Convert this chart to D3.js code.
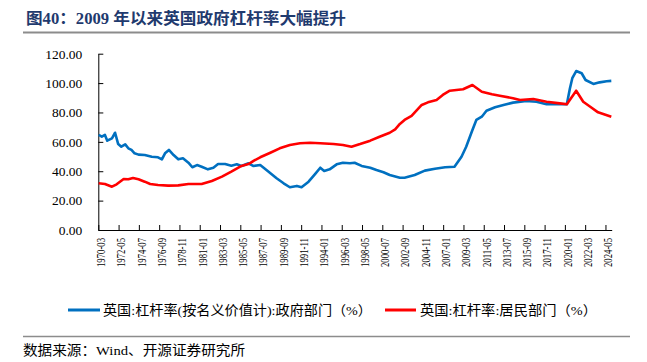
<!DOCTYPE html>
<html>
<head>
<meta charset="utf-8">
<script src="https://cdn.jsdelivr.net/npm/d3@7"></script>
<style>
  body { margin: 0; background: #fff; }
  svg { display: block; }
</style>
</head>
<body>
<div id="chart"></div>
<script>
var width  = 647;
var height = 362;

// x axis labels (every 26 months)
var tickLabels = ["1970-03","1972-05","1974-07","1976-09","1978-11","1981-01","1983-03",
  "1985-05","1987-07","1989-09","1991-11","1994-01","1996-03","1998-05","2000-07",
  "2002-09","2004-11","2007-01","2009-03","2011-05","2013-07","2015-09","2017-11",
  "2020-01","2022-03","2024-05"];
var yTicks = [0, 20, 40, 60, 80, 100, 120];
var firstMonth = "1970-03";
var lastMonth  = "2024-12";

// 政府部门
var govDates = ["1970-03","1970-07","1970-11","1971-02","1971-08","1971-12","1972-04","1972-08",
  "1973-01","1973-05","1973-09","1974-01","1974-06","1975-02","1975-11","1976-07","1976-12",
  "1977-04","1977-09","1978-03","1978-09","1979-03","1979-10","1980-03","1980-09","1981-03",
  "1981-11","1982-06","1982-12","1983-09","1984-05","1984-12","1985-06","1986-03","1986-09",
  "1987-06","1988-02","1989-03","1989-12","1990-08","1991-05","1991-11","1992-08","1993-04",
  "1993-11","1994-04","1994-11","1995-08","1996-04","1997-01","1997-07","1998-04","1999-03",
  "1999-11","2000-08","2001-04","2002-05","2002-11","2003-12","2005-01","2006-02","2007-03",
  "2008-03","2008-12","2009-06","2010-02","2010-07","2011-02","2011-08","2012-07","2013-07",
  "2014-06","2015-11","2016-12","2018-01","2019-02","2020-03","2020-07","2020-10","2021-03",
  "2021-10","2022-03","2023-01","2023-09","2024-06","2024-12"];
var govValues = [64.7,63.5,64.7,60.8,62.4,66.2,58.5,56.7,
  58.3,55.6,54.5,52.2,51.3,51.0,49.9,49.5,48.1,
  52.2,54.5,51.0,48.1,48.8,45.8,42.7,44.2,43.1,
  41.3,42.4,44.9,44.9,43.8,44.7,43.6,45.4,43.6,
  44.2,40.8,35.2,31.8,29.1,30.0,29.1,32.9,37.9,
  42.4,40.2,41.3,44.7,45.8,45.4,45.8,43.6,42.4,
  40.8,39.3,37.4,35.6,35.6,37.4,40.4,41.7,42.7,
  43.1,49.9,56.7,68.1,74.9,77.1,81.2,83.5,85.3,
  86.7,87.8,87.3,85.6,85.8,85.6,96.5,103.3,108.2,
  106.7,102.1,99.4,100.5,101.3,101.5];

// 居民部门
var hhDates = ["1970-03","1970-11","1971-08","1972-02","1972-11","1973-05","1973-11","1974-06",
  "1975-02","1975-09","1976-07","1977-08","1978-09","1979-10","1981-03","1982-04","1983-05",
  "1984-05","1985-06","1986-03","1986-10","1987-06","1988-07","1989-07","1990-08","1991-09",
  "1992-10","1993-11","1995-04","1996-04","1997-03","1998-02","1999-03","2000-03","2001-04",
  "2001-11","2002-05","2002-11","2003-08","2004-09","2005-05","2006-04","2006-12","2007-09",
  "2009-02","2010-02","2011-02","2012-03","2013-01","2014-06","2015-03","2016-08","2018-01",
  "2019-06","2020-03","2021-03","2021-12","2022-09","2023-07","2024-12"];
var hhValues = [31.8,31.3,29.5,31.1,34.7,34.5,35.4,34.5,
  32.9,31.3,30.6,30.2,30.4,31.3,31.3,33.4,36.3,
  39.7,43.6,44.9,47.2,49.5,52.6,55.6,57.9,59.0,
  59.4,59.0,58.5,57.9,56.7,58.5,60.8,63.5,66.2,
  68.5,72.2,74.9,77.6,85.1,86.9,88.5,91.9,94.8,
  95.8,98.7,94.1,92.4,91.4,89.7,88.5,89.2,87.3,
  86.2,85.6,94.8,87.3,83.9,80.1,77.1];

var seriesNames = ["英国:杠杆率(按名义价值计):政府部门（%）", "英国:杠杆率:居民部门（%）"];
var colors = ["#0070C0", "#FF0000"];

function monthIndex(s) {
  var p = s.split("-");
  var f = firstMonth.split("-");
  return (+p[0] - +f[0]) * 12 + (+p[1] - +f[1]);
}

var svg = d3.select("#chart")
  .append("svg")
  .attr("width", width)
  .attr("height", height);

var serif = "'Liberation Serif', 'Times New Roman', 'Noto Sans CJK SC', serif";
var cjk = "'Liberation Serif', 'Noto Sans CJK SC', sans-serif";

// title
svg.append("text")
  .attr("x", 26)
  .attr("y", 24)
  .attr("font-family", cjk)
  .attr("font-weight", "bold")
  .attr("font-size", 16)
  .attr("fill", "#1F3A6E")
  .attr("textLength", 320)
  .attr("lengthAdjust", "spacingAndGlyphs")
  .text("图40：2009 年以来英国政府杠杆率大幅提升");

svg.append("line")
  .attr("x1", 23).attr("x2", 630)
  .attr("y1", 32.5).attr("y2", 32.5)
  .attr("stroke", "#8c8c8c")
  .attr("stroke-width", 2);

var x = d3.scaleLinear()
  .domain([-0.5, monthIndex(lastMonth) + 0.5])
  .range([98.3, 611.7]);

var y = d3.scaleLinear()
  .domain([0, 120])
  .range([230, 53.7]);

// y axis
var yAxis = svg.append("g")
  .attr("transform", "translate(" + x.range()[0] + ",0)")
  .call(d3.axisLeft(y).tickValues(yTicks).tickSizeInner(-5).tickSizeOuter(0)
    .tickPadding(16).tickFormat(d3.format(".2f")));
yAxis.selectAll("text")
  .attr("font-family", serif)
  .attr("font-size", 13.5)
  .attr("fill", "#000");
yAxis.selectAll("line, path").attr("stroke", "#000");

// x axis
var xAxis = svg.append("g")
  .attr("transform", "translate(0," + y(0) + ")")
  .call(d3.axisBottom(x)
    .tickValues(tickLabels.map(function(d) { return monthIndex(d) - 0.5; }))
    .tickSizeInner(-5).tickSizeOuter(0)
    .tickFormat(function(d, i) { return tickLabels[i]; }));
xAxis.selectAll("line, path").attr("stroke", "#000");
xAxis.selectAll("text")
  .attr("font-family", serif)
  .attr("font-size", 12.5)
  .attr("fill", "#000")
  .attr("text-anchor", "end")
  .attr("dy", "0.35em")
  .attr("textLength", 29)
  .attr("lengthAdjust", "spacingAndGlyphs")
  .attr("transform", "translate(2,8) rotate(-90)")
  .attr("x", 0)
  .attr("y", 0);

// lines
var line = d3.line()
  .x(function(d) { return x(d.m); })
  .y(function(d) { return y(d.v); });

var govData = govDates.map(function(d, i) { return { m: monthIndex(d), v: govValues[i] }; });
var hhData = hhDates.map(function(d, i) { return { m: monthIndex(d), v: hhValues[i] }; });

[govData, hhData].forEach(function(data, i) {
  svg.append("path")
    .datum(data)
    .attr("d", line)
    .attr("fill", "none")
    .attr("stroke", colors[i])
    .attr("stroke-width", 2.6)
    .attr("stroke-linejoin", "round");
});

// legend
var legend = [
  { x1: 68, x2: 100, tx: 103, len: 269 },
  { x1: 385, x2: 416, tx: 420, len: 177 }
];
legend.forEach(function(l, i) {
  svg.append("line")
    .attr("x1", l.x1).attr("x2", l.x2)
    .attr("y1", 310).attr("y2", 310)
    .attr("stroke", colors[i])
    .attr("stroke-width", 3);
  svg.append("text")
    .attr("x", l.tx)
    .attr("y", 315)
    .attr("font-family", cjk)
    .attr("font-size", 13.5)
    .attr("fill", "#000")
    .attr("textLength", l.len)
    .attr("lengthAdjust", "spacingAndGlyphs")
    .text(seriesNames[i]);
});

// source
svg.append("line")
  .attr("x1", 23).attr("x2", 630)
  .attr("y1", 336.5).attr("y2", 336.5)
  .attr("stroke", "#8c8c8c")
  .attr("stroke-width", 1.5);

svg.append("text")
  .attr("x", 23)
  .attr("y", 355)
  .attr("font-family", cjk)
  .attr("font-size", 13.5)
  .attr("fill", "#000")
  .attr("textLength", 222)
  .attr("lengthAdjust", "spacingAndGlyphs")
  .text("数据来源：Wind、开源证券研究所");
</script>
</body>
</html>
